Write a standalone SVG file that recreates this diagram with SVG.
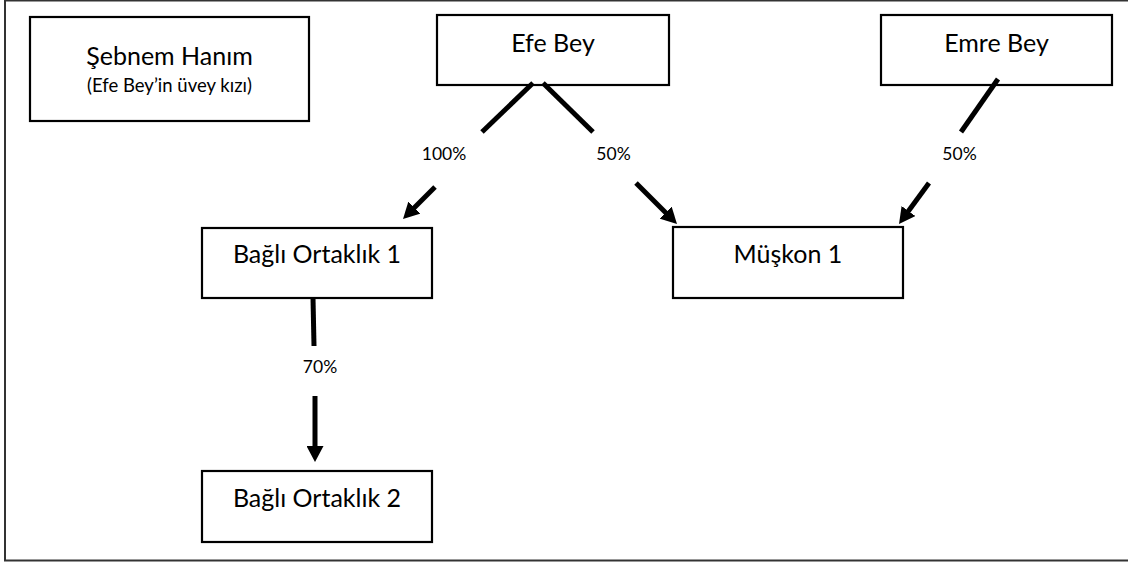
<svg xmlns="http://www.w3.org/2000/svg" width="1128" height="562" viewBox="0 0 1128 562">
  <style>
    .frame { fill: none; stroke: #333333; stroke-width: 2; }
    .box { fill: #ffffff; stroke: #000000; stroke-width: 2.2; }
    .name { font-family: Lato, "Liberation Sans", sans-serif; font-size: 25px; fill: #000000; text-anchor: middle; }
    .sub { font-family: Lato, "Liberation Sans", sans-serif; font-size: 18.5px; fill: #000000; text-anchor: middle; }
    .pct { font-family: Lato, "Liberation Sans", sans-serif; font-size: 17.5px; fill: #000000; text-anchor: middle; }
    .link { fill: none; stroke: #000000; stroke-width: 5; }
  </style>
  <defs>
    <marker id="head" viewBox="0 0 16 17" refX="4" refY="8.5" markerWidth="16" markerHeight="17" markerUnits="userSpaceOnUse" orient="auto">
      <path d="M0,0 L16,8.5 L0,17 Z" fill="#000000"/>
    </marker>
  </defs>

  <rect width="1128" height="562" fill="#ffffff"/>
  <rect class="frame" x="5" y="0.5" width="1130" height="560"/>

  <g id="sebnem-hanim">
    <rect class="box" x="30" y="17" width="279" height="104"/>
    <text class="name" x="169.5" y="65">Şebnem Hanım</text>
    <text class="sub" x="169.5" y="92">(Efe Bey’in üvey kızı)</text>
  </g>

  <g id="efe-bey">
    <rect class="box" x="437" y="15" width="232" height="70"/>
    <text class="name" x="553" y="52">Efe Bey</text>
  </g>

  <g id="emre-bey">
    <rect class="box" x="881" y="15" width="231" height="70"/>
    <text class="name" x="996.5" y="52">Emre Bey</text>
  </g>

  <g id="bagli-ortaklik-1">
    <rect class="box" x="202" y="228" width="230" height="70"/>
    <text class="name" x="317" y="263">Bağlı Ortaklık 1</text>
  </g>

  <g id="muskon-1">
    <rect class="box" x="673" y="227" width="230" height="71"/>
    <text class="name" x="788" y="263">Müşkon 1</text>
  </g>

  <g id="bagli-ortaklik-2">
    <rect class="box" x="202" y="471" width="230" height="71"/>
    <text class="name" x="317" y="507">Bağlı Ortaklık 2</text>
  </g>

  <g id="connectors">
    <!-- Efe Bey to Bağlı Ortaklık 1 -->
    <line class="link" x1="533" y1="83" x2="482" y2="132"/>
    <line class="link" x1="435" y1="187" x2="411.5" y2="210.5" marker-end="url(#head)"/>
    <text class="pct" x="444" y="160">100%</text>

    <!-- Efe Bey to Müşkon 1 -->
    <line class="link" x1="543" y1="83" x2="593" y2="132"/>
    <line class="link" x1="636" y1="183" x2="668.5" y2="215.5" marker-end="url(#head)"/>
    <text class="pct" x="613.5" y="160">50%</text>

    <!-- Emre Bey to Müşkon 1 -->
    <line class="link" x1="998" y1="79" x2="961" y2="132"/>
    <line class="link" x1="929" y1="183" x2="906.1" y2="214.3" marker-end="url(#head)"/>
    <text class="pct" x="959.5" y="160">50%</text>

    <!-- Bağlı Ortaklık 1 to Bağlı Ortaklık 2 -->
    <line class="link" x1="313" y1="298" x2="314" y2="346"/>
    <line class="link" x1="315" y1="396" x2="315" y2="450" marker-end="url(#head)"/>
    <text class="pct" x="320" y="373">70%</text>
  </g>
</svg>
